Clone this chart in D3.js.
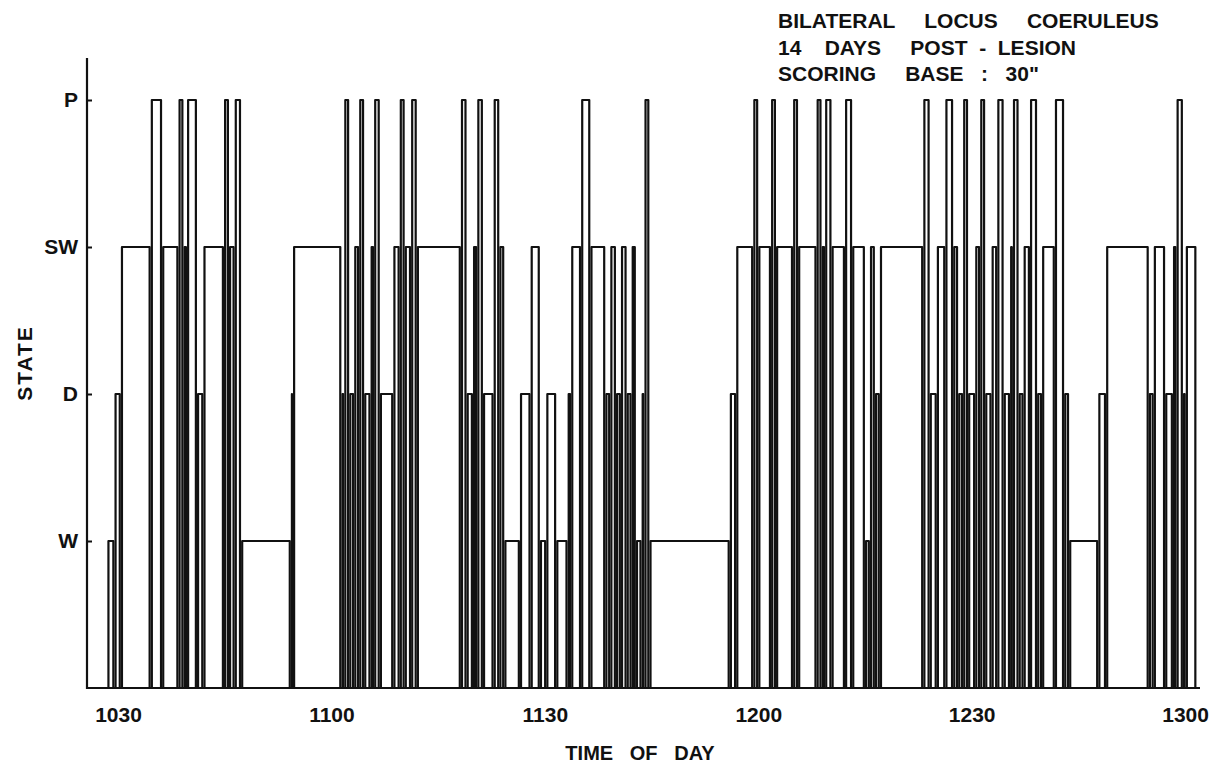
<!DOCTYPE html>
<html>
<head>
<meta charset="utf-8">
<script src="https://cdn.jsdelivr.net/npm/d3@7"></script>
<style>
  html, body { margin: 0; padding: 0; background: #fff; }
  svg { display: block; }
  text { font-family: "Liberation Sans", Arial, sans-serif; font-weight: bold; fill: #111; white-space: pre; }
</style>
</head>
<body>
<svg id="chart" width="1220" height="765"></svg>
<script>
// Sleep–wake states, lowest to highest on the vertical axis
const stateNames = ["W", "D", "SW", "P"];

// Scored episodes in order (one state per episode)
const episodeStates = [
  "W","D","SW","P","SW","P","SW","P","D","SW","P","SW","P","W","D","SW","D","P","D","SW",
  "P","D","SW","P","D","SW","P","SW","P","SW","P","D","SW","P","D","P","SW","W","D","SW",
  "W","D","W","D","SW","P","SW","D","SW","D","SW","D","SW","W","D","P","W","D","SW","P",
  "SW","P","SW","P","SW","P","SW","P","SW","P","SW","W","SW","D","SW","P","D","SW","P","SW",
  "D","P","D","SW","P","D","SW","P","D","SW","P","D","SW","P","D","SW","P","D","W","D",
  "SW","D","SW","D","SW","P","D","SW"
];

// Episode boundaries, minutes after 10:00 (episode i runs from boundary i to boundary i+1)
const episodeBoundaries = [
  28.5, 29.5, 30.4, 34.6, 36.2, 38.5, 39.2, 39.7, 41.1, 42.0,
  44.9, 45.6, 46.4, 47.3, 54.3, 54.6, 61.4, 61.8, 62.5, 63.2,
  63.9, 64.6, 65.5, 66.0, 66.8, 68.7, 69.6, 70.3, 71.2, 72.0,
  78.2, 79.0, 79.9, 80.5, 81.3, 82.8, 83.6, 84.3, 86.5, 88.0,
  89.3, 90.2, 91.6, 93.2, 93.7, 95.1, 96.4, 98.5, 99.2, 100.0,
  100.7, 101.5, 102.2, 102.8, 103.6, 104.0, 104.7, 116.0, 116.9, 119.3,
  120.0, 121.8, 122.5, 124.9, 125.6, 128.2, 128.9, 129.4, 130.3, 132.2,
  133.2, 135.0, 135.7, 136.4, 137.1, 143.2, 144.1, 145.1, 146.3, 147.4,
  148.1, 148.8, 149.5, 150.5, 151.2, 151.9, 152.8, 153.6, 154.5, 155.4,
  155.8, 156.6, 157.3, 158.2, 159.2, 159.9, 161.7, 163.0, 163.7, 167.8,
  168.9, 174.9, 175.6, 177.2, 178.3, 178.8, 179.7, 180.1, 181.6
];

// Time axis ticks (minutes after 10:00) and their labels
const timeTicks = [30, 60, 90, 120, 150, 180];
const timeTickLabels = ["1030", "1100", "1130", "1200", "1230", "1300"];

// Heading lines
const headingLines = [
  "BILATERAL     LOCUS     COERULEUS",
  "14    DAYS     POST  -  LESION",
  "SCORING     BASE   :   30\""
];

const svg = d3.select("#chart");

const plot = { left: 87, right: 1200, top: 58, bottom: 688 };

const x = d3.scaleLinear()
  .domain([25.64, 182.1])
  .range([plot.left, plot.right]);

const y = d3.scaleLinear()
  .domain([0, stateNames.length])
  .range([plot.bottom, 100]);

const levelOf = s => stateNames.indexOf(s) + 1;

// Episodes: each drawn as an open box rising from the baseline to its state level
const inset = 1.1;
const episodes = episodeStates.map((s, i) => ({
  state: s,
  start: episodeBoundaries[i],
  end: episodeBoundaries[i + 1]
}));

svg.append("g")
  .attr("fill", "none")
  .attr("stroke", "#111")
  .attr("stroke-width", 2.2)
  .attr("stroke-linejoin", "round")
  .selectAll("path")
  .data(episodes)
  .join("path")
  .attr("d", d => {
    const x0 = x(d.start) + inset;
    const x1 = x(d.end) - inset;
    const yl = y(levelOf(d.state));
    const yb = y(0);
    return `M${x0},${yb}L${x0},${yl}L${x1},${yl}L${x1},${yb}`;
  });

// Vertical state axis with short inward ticks
const yAxis = d3.axisLeft(y)
  .tickValues(stateNames.map((s, i) => i + 1))
  .tickFormat(v => stateNames[v - 1])
  .tickSizeInner(-5)
  .tickSizeOuter(0)
  .tickPadding(9);

const yg = svg.append("g")
  .attr("transform", `translate(${plot.left},0)`)
  .call(yAxis);
yg.select(".domain").remove();
yg.selectAll(".tick line").attr("stroke", "#111").attr("stroke-width", 2);
yg.selectAll(".tick text")
  .attr("font-size", 21)
  .attr("font-family", "Liberation Sans, Arial, sans-serif")
  .attr("font-weight", "bold")
  .attr("fill", "#111");

svg.append("line")
  .attr("x1", plot.left).attr("x2", plot.left)
  .attr("y1", plot.top).attr("y2", plot.bottom + 1)
  .attr("stroke", "#111").attr("stroke-width", 2.2);

// Horizontal time axis
const xAxis = d3.axisBottom(x)
  .tickValues(timeTicks)
  .tickFormat((v, i) => timeTickLabels[i])
  .tickSize(0)
  .tickPadding(19);

const xg = svg.append("g")
  .attr("transform", `translate(0,${plot.bottom})`)
  .call(xAxis);
xg.select(".domain").remove();
xg.selectAll(".tick text")
  .attr("font-size", 21)
  .attr("font-family", "Liberation Sans, Arial, sans-serif")
  .attr("font-weight", "bold")
  .attr("fill", "#111");

svg.append("line")
  .attr("x1", plot.left - 1).attr("x2", plot.right)
  .attr("y1", plot.bottom).attr("y2", plot.bottom)
  .attr("stroke", "#111").attr("stroke-width", 2.2);

// Axis titles
svg.append("text")
  .attr("x", 640).attr("y", 760)
  .attr("text-anchor", "middle")
  .attr("font-size", 20)
  .text("TIME   OF   DAY");

svg.append("text")
  .attr("transform", "translate(32,363) rotate(-90)")
  .attr("text-anchor", "middle")
  .attr("font-size", 21)
  .attr("letter-spacing", 2)
  .text("STATE");

// Heading block, upper right
svg.append("g")
  .selectAll("text")
  .data(headingLines)
  .join("text")
  .attr("x", 778)
  .attr("y", (d, i) => 28 + i * 26.5)
  .attr("font-size", 21)
  .text(d => d);
</script>
</body>
</html>
